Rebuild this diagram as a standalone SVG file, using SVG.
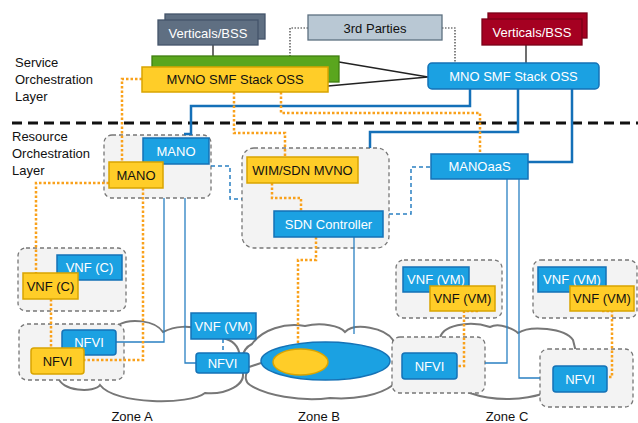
<svg xmlns="http://www.w3.org/2000/svg" width="638" height="423" viewBox="0 0 638 423">
<style>
.blue{fill:#1ba1e2;stroke:#1572b6;stroke-width:1.5}
.yel{fill:#ffcd28;stroke:#d9a400;stroke-width:1.5}
.grp{fill:#f3f3f3;stroke:#777;stroke-width:1.3;stroke-dasharray:4 3}
.cloud{fill:#fff;stroke:#777;stroke-width:2}
text{font-family:'Liberation Sans',Arial,sans-serif;font-size:13px}
.tw{fill:#fff;text-anchor:middle}
.tb{fill:#111;text-anchor:middle}
.lbl{fill:#111}
.orange{fill:none;stroke:#f9a11b;stroke-width:2.5;stroke-dasharray:2.5 2}
.thick{fill:none;stroke:#1470b8;stroke-width:2.5}
.thin{fill:none;stroke:#2a80c2;stroke-width:1.3}
.bdash{fill:none;stroke:#2a80c2;stroke-width:1.5;stroke-dasharray:4 3}
.black{fill:none;stroke:#222;stroke-width:1.3}
.bdot{fill:none;stroke:#333;stroke-width:1.2;stroke-dasharray:1.5 1.5}
</style>
<rect width="638" height="423" fill="#fff"/>
<g id="clouds">
<path class="cloud" d="M58,376 C60,392 95,393 100,385 C115,405 190,405 205,393 C225,395 248,385 242,370 L240,360 C240,350 236,342 226,339 L200,330 C190,325 175,326 163,332 C155,320 130,318 118,325 L60,335 Z"/>
<path class="cloud" d="M247,372 C240,365 240,350 252,344 C262,330 285,322 305,326 C322,322 340,326 345,332 C355,322 385,328 393,340 L393,385 C380,395 355,400 330,398 C300,402 265,395 250,385 C245,382 245,376 247,372 Z"/>
<path class="cloud" d="M440,340 C440,325 470,320 490,327 C500,322 515,330 518,333 C530,325 565,328 573,340 L576,352 L545,393 C525,400 495,402 470,393 L440,380 Z"/>
</g>
<g id="labels">
<text class="lbl" x="15" y="67">Service</text>
<text class="lbl" x="15" y="84">Orchestration</text>
<text class="lbl" x="15" y="101">Layer</text>
<text class="lbl" x="12" y="141">Resource</text>
<text class="lbl" x="12" y="158">Orchestration</text>
<text class="lbl" x="12" y="175">Layer</text>
<text class="tb" x="132" y="421">Zone A</text>
<text class="tb" x="319" y="421">Zone B</text>
<text class="tb" x="507" y="421">Zone C</text>
</g>
<path d="M12,123 H638" stroke="#111" stroke-width="3" stroke-dasharray="10 6" fill="none"/>
<g id="groups">
<rect id="grp-mano" class="grp" x="104" y="135" width="107" height="63" rx="8"/>
<rect id="grp-wim" class="grp" x="242" y="148" width="147" height="100" rx="12"/>
<rect id="grp-vnfc" class="grp" x="18" y="248" width="108" height="63" rx="8"/>
<rect id="grp-nfvia" class="grp" x="19" y="324" width="105" height="56" rx="8"/>
<rect id="grp-vnfc1" class="grp" x="396" y="260" width="106" height="58" rx="8"/>
<rect id="grp-nfvic1" class="grp" x="392" y="337" width="93" height="56" rx="8"/>
<rect id="grp-vnfc2" class="grp" x="533" y="260" width="104" height="58" rx="8"/>
<rect id="grp-nfvic2" class="grp" x="540" y="349" width="93" height="58" rx="8"/>
</g>
<g id="connectors">
<path class="black" d="M213,45 V67 M526,45 V63 M339,62 L428,77 M328,86 L428,77"/>
<path class="bdot" d="M308,28 H290 V67 M442,28 H455 V63"/>
<path class="thick" d="M470,89 V106 H191 V134 H184"/>
<path class="thick" d="M518,89 V132 H370 V148"/>
<path class="thick" d="M572,89 V162 H528"/>
<path class="thin" d="M164,198 V342 H116"/>
<path class="thin" d="M185,198 V363 H196"/>
<path class="thin" d="M507,179 V363 H485"/>
<path class="thin" d="M519,179 V378 H540"/>
<path class="thin" d="M354,237 V334"/>
<path class="bdash" d="M211,166 H230 V199 H242"/>
<path class="bdash" d="M389,214 H411 V167 H431"/>
<path class="bdash" d="M223,339 V353"/>
<path d="M249,367 L261,363" stroke="#777" stroke-width="2" fill="none"/>
<path class="orange" d="M142,79 H122 V162"/>
<path class="orange" d="M234,92 V133 H285 V157"/>
<path class="orange" d="M281,92 V113 H480 V154"/>
<path class="orange" d="M109,183 H36 V273"/>
<path class="orange" d="M143,188 V360 H84"/>
<path class="orange" d="M272,183 V198 H301 V211"/>
<path class="orange" d="M316,237 V260 H298 V349"/>
<path class="orange" d="M51,299 V348"/>
<path class="orange" d="M478,311 H464 V366 H457"/>
<path class="orange" d="M602,311 H612 V377 H607"/>
</g>
<g id="vert-gray">
<rect x="165" y="14" width="100" height="25" fill="#5f6f82" stroke="#44546a" stroke-width="1.3"/>
<rect x="158" y="20" width="100" height="25" fill="#5f6f82" stroke="#44546a" stroke-width="1.3"/>
<text class="tw" x="208" y="37.5">Verticals/BSS</text>
</g>
<g id="third-parties">
<rect x="308" y="15" width="134" height="25" fill="#b9c8d4" stroke="#5d7080" stroke-width="1.3"/>
<text class="tb" x="375" y="32.5">3rd Parties</text>
</g>
<g id="vert-red">
<rect x="488" y="13" width="99" height="25" fill="#a50021" stroke="#7a0018" stroke-width="1.3"/>
<rect x="482" y="19" width="100" height="26" fill="#a50021" stroke="#7a0018" stroke-width="1.3"/>
<text class="tw" x="532" y="36.5">Verticals/BSS</text>
</g>
<g id="green-oss">
<rect x="152" y="56" width="187" height="26" fill="#5aa61e" stroke="#3f7f10" stroke-width="1.3"/>
</g>
<g id="mvno-oss">
<rect class="yel" x="142" y="67" width="186" height="25"/>
<text class="tb" x="235" y="84">MVNO SMF Stack OSS</text>
</g>
<g id="mno-oss">
<rect class="blue" x="428" y="63" width="171" height="26" rx="4"/>
<text class="tw" x="513.5" y="80.5">MNO SMF Stack OSS</text>
</g>
<g id="mano-blue">
<rect class="blue" x="143" y="138" width="66" height="26"/>
<text class="tw" x="176" y="155.5">MANO</text>
</g>
<g id="mano-yellow">
<rect class="yel" x="109" y="162" width="54" height="26"/>
<text class="tb" x="136" y="179.5">MANO</text>
</g>
<g id="wim">
<rect class="yel" x="247" y="157" width="111" height="26"/>
<text class="tb" x="302.5" y="174.5">WIM/SDN MVNO</text>
</g>
<g id="sdn">
<rect class="blue" x="274" y="211" width="109" height="26"/>
<text class="tw" x="328.5" y="228.5">SDN Controller</text>
</g>
<g id="manoaas">
<rect class="blue" x="431" y="154" width="97" height="25"/>
<text class="tw" x="479.5" y="171">MANOaaS</text>
</g>
<g id="vnfc-blue">
<rect class="blue" x="57" y="255" width="65" height="25"/>
<text class="tw" x="89.5" y="272">VNF (C)</text>
</g>
<g id="vnfc-yellow">
<rect class="yel" x="23" y="273" width="55" height="26"/>
<text class="tb" x="50.5" y="290.5">VNF (C)</text>
</g>
<g id="nfvia-blue">
<rect class="blue" x="62" y="330" width="54" height="25" rx="3"/>
<text class="tw" x="89" y="347">NFVI</text>
</g>
<g id="nfvia-yellow">
<rect class="yel" x="31" y="348" width="53" height="26" rx="3"/>
<text class="tb" x="57.5" y="365.5">NFVI</text>
</g>
<g id="vnfvm-b">
<rect class="blue" x="191" y="313" width="65" height="26"/>
<text class="tw" x="223.5" y="330.5">VNF (VM)</text>
</g>
<g id="nfvi-b">
<rect class="blue" x="196" y="353" width="53" height="20" rx="3"/>
<text class="tw" x="222.5" y="367.5">NFVI</text>
</g>
<g id="network-b">
<ellipse cx="325.5" cy="361" rx="64.5" ry="19" fill="#1ba1e2" stroke="#1572b6" stroke-width="1.5"/>
<ellipse cx="300.5" cy="362" rx="27.5" ry="13" fill="#ffcd28" stroke="#d9a400" stroke-width="1.5"/>
</g>
<g id="vnfvm-c1-blue">
<rect class="blue" x="403" y="267" width="66" height="25"/>
<text class="tw" x="436" y="284">VNF (VM)</text>
</g>
<g id="vnfvm-c1-yellow">
<rect class="yel" x="430" y="286" width="65" height="25"/>
<text class="tb" x="462.5" y="303">VNF (VM)</text>
</g>
<g id="nfvi-c1">
<rect class="blue" x="402" y="353" width="55" height="26" rx="3"/>
<text class="tw" x="429.5" y="370.5">NFVI</text>
</g>
<g id="vnfvm-c2-blue">
<rect class="blue" x="538" y="267" width="68" height="25"/>
<text class="tw" x="572" y="284">VNF (VM)</text>
</g>
<g id="vnfvm-c2-yellow">
<rect class="yel" x="570" y="286" width="64" height="25"/>
<text class="tb" x="602" y="303">VNF (VM)</text>
</g>
<g id="nfvi-c2">
<rect class="blue" x="553" y="366" width="54" height="26" rx="3"/>
<text class="tw" x="580" y="383.5">NFVI</text>
</g>
</svg>
